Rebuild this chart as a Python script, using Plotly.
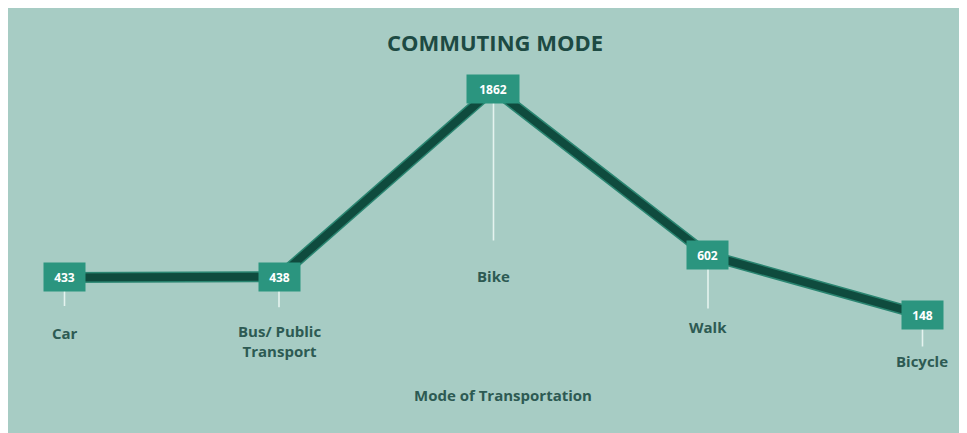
import plotly.graph_objects as go

# ---- data ----
categories = ["Car", "Bus/ Public Transport", "Bike", "Walk", "Bicycle"]
tick_labels = ["Car", "Bus/ Public<br>Transport", "Bike", "Walk", "Bicycle"]
values = [433, 438, 1862, 602, 148]
title_text = "COMMUTING MODE"
x_title = "Mode of Transportation"

# ---- styling / layout ----
BG = "#a7ccc4"
BOX = "#2b957f"
LINE_DARK = "#0f4b3e"
LINE_EDGE = "#2a8571"
TITLE_C = "#1d4a43"
LABEL_C = "#2d5a53"
FONT = "Open Sans"

W, H = 967, 433

# label offsets below each point (px) and gap between label and leader line
label_dy = [56, 64, 187, 72, 46]
label_gap = [16, 12, 24, 7, 3]

fig = go.Figure()

# lighter edge under the line
fig.add_trace(go.Scatter(
    x=categories, y=values, mode="lines",
    line=dict(color=LINE_EDGE, width=11), hoverinfo="skip", showlegend=False))
fig.add_trace(go.Scatter(
    x=categories, y=values, mode="lines",
    line=dict(color=LINE_DARK, width=8), hoverinfo="skip", showlegend=False))

annotations = []
for cat, lab, v, dy, gap in zip(categories, tick_labels, values, label_dy, label_gap):
    annotations.append(dict(
        x=cat, y=v, xref="x", yref="y", text=f"<b>{lab}</b>",
        showarrow=True, arrowhead=0, arrowwidth=1.6,
        arrowcolor="rgba(240,250,247,0.85)", ax=0, ay=dy,
        standoff=13, startstandoff=gap,
        font=dict(family=FONT, size=15, color=LABEL_C)))
for cat, v in zip(categories, values):
    txt = str(v)
    annotations.append(dict(
        x=cat, y=v, xref="x", yref="y", text=f"<b>{txt}</b>",
        showarrow=False, bgcolor=BOX, width=6 + 11 * len(txt), height=26,
        font=dict(family=FONT, size=12, color="white")))

# axis title
annotations.append(dict(
    x=(503 - 8) / W, y=1 - (395 - 8) / H, xanchor="center", yanchor="middle",
    xref="paper", yref="paper", text=f"<b>{x_title}</b>", showarrow=False,
    font=dict(family=FONT, size=15, color=LABEL_C)))

fig.update_layout(
    width=W, height=H,
    margin=dict(l=0, r=0, t=0, b=0),
    paper_bgcolor=BG, plot_bgcolor=BG,
    title=dict(text=f"<b>{title_text}</b>", x=(495 - 8) / W, y=1 - (43 - 8) / H,
               xanchor="center", yanchor="middle",
               font=dict(family=FONT, size=22, color=TITLE_C)),
    xaxis=dict(type="category", categoryorder="array", categoryarray=categories,
               range=[-0.2634, 4.2448], visible=False),
    yaxis=dict(range=[-807.7, 2476.1], visible=False),
    annotations=annotations,
    showlegend=False,
)

fig.write_html("out.html")
